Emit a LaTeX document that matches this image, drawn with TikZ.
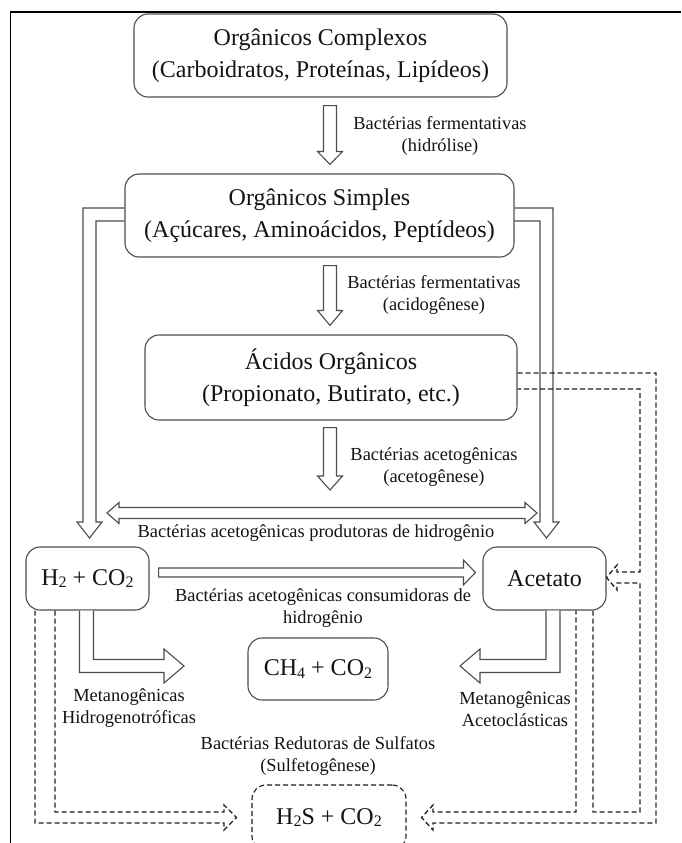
\documentclass[tikz,border=0pt]{standalone}
\usepackage{fontspec}
\setmainfont{Liberation Serif}
\usetikzlibrary{calc}
\definecolor{edgegray}{HTML}{4D4D4D}
\definecolor{txt}{HTML}{141414}
\definecolor{dashcol}{HTML}{1E1E1E}
\newcommand\bigfont{\fontsize{24}{32}\selectfont}
\newcommand\labfont{\fontsize{18.4}{22}\selectfont}
\newcommand\sbs[1]{\raisebox{-0.12em}{\fontsize{16}{16}\selectfont #1}}
% hollow block arrow: style, start, target, shaft half width, head half width, head length
\newcommand\hollowarrow[6]{%
  \path #2 coordinate (ha-s);
  \path #3 coordinate (ha-t);
  \path ($(ha-t)!#6pt!(ha-s)$) coordinate (ha-b);
  \draw[hollow,#1] ($(ha-s)!#4pt!90:(ha-t)$) -- ($(ha-b)!#4pt!-90:(ha-s)$) -- ($(ha-b)!#5pt!-90:(ha-s)$) -- (ha-t) -- ($(ha-b)!#5pt!90:(ha-s)$) -- ($(ha-b)!#4pt!90:(ha-s)$) -- ($(ha-s)!#4pt!-90:(ha-t)$) -- cycle;
}
% hollow double headed arrow: start, target, sw, hw, hl
\newcommand\hollowdouble[5]{%
  \path #1 coordinate (hd-s);
  \path #2 coordinate (hd-t);
  \path ($(hd-s)!#5pt!(hd-t)$) coordinate (hd-b1);
  \path ($(hd-t)!#5pt!(hd-s)$) coordinate (hd-b2);
  \draw[hollow] (hd-s) -- ($(hd-b1)!#4pt!90:(hd-t)$) -- ($(hd-b1)!#3pt!90:(hd-t)$) -- ($(hd-b2)!#3pt!-90:(hd-s)$) -- ($(hd-b2)!#4pt!-90:(hd-s)$) -- (hd-t) -- ($(hd-b2)!#4pt!90:(hd-s)$) -- ($(hd-b2)!#3pt!90:(hd-s)$) -- ($(hd-b1)!#3pt!-90:(hd-t)$) -- ($(hd-b1)!#4pt!-90:(hd-t)$) -- cycle;
}
\tikzset{
  box/.style={draw=edgegray, line width=1.1pt, rounded corners=14pt, fill=white, align=center, font=\bigfont, text=txt, inner sep=0pt},
  dbox/.style={box, draw=dashcol, dash pattern=on 5pt off 3pt},
  lab/.style={align=center, font=\labfont, text=txt, inner sep=0pt},
  hollow/.style={draw=edgegray, line width=1.1pt, fill=white, line join=miter},
  hollowopen/.style={draw=edgegray, line width=1.1pt, line join=miter},
  dpipe/.style={draw=dashcol, line width=1.3pt, dash pattern=on 5pt off 3pt, line join=miter},
  frame/.style={draw=black, line width=1.2pt}
}
\begin{document}
\begin{tikzpicture}[x=1pt, y=-1pt]
\useasboundingbox (0,0) rectangle (681,843);
\clip (0,0) rectangle (681,843);
\fill[white] (0,0) rectangle (681,843);
% frame
\draw[frame] (10.5,843) coordinate (fr-bl) -- (10.5,12) coordinate (fr-tl) -- (681,12) coordinate (fr-tr);

% nodes
\node[box, minimum width=373pt, minimum height=83pt] (b1) at (320.5,55.5) {Orgânicos Complexos\\(Carboidratos, Proteínas, Lipídeos)};
\node[box, minimum width=389pt, minimum height=83pt] (b2) at (319.5,215.5) {Orgânicos Simples\\(Açúcares, Aminoácidos, Peptídeos)};
\node[box, minimum width=372pt, minimum height=85pt] (b3) at (331,377.5) {Ácidos Orgânicos\\(Propionato, Butirato, etc.)};
\node[box, minimum width=123pt, minimum height=63pt] (h2) at (87.5,578.5) {H\sbs{2} + CO\sbs{2}};
\node[box, minimum width=123pt, minimum height=63pt] (ac) at (544.5,578.5) {Acetato};
\node[box, minimum width=140pt, minimum height=62pt] (ch4) at (318,669) {CH\sbs{4} + CO\sbs{2}};
\node[dbox, minimum width=154pt, minimum height=65pt] (h2s) at (329,817.5) {H\sbs{2}S + CO\sbs{2}};

% labels
\node[lab] (l1) at (440,136) {Bactérias fermentativas\\(hidrólise)};
\node[lab] (l2) at (434,295) {Bactérias fermentativas\\(acidogênese)};
\node[lab] (l3) at (434,467) {Bactérias acetogênicas\\(acetogênese)};
\node[lab] (l4) at (316,533) {Bactérias acetogênicas produtoras de hidrogênio};
\node[lab] (l5) at (323,608) {Bactérias acetogênicas consumidoras de\\hidrogênio};
\node[lab] (l6) at (129,708) {Metanogênicas\\Hidrogenotróficas};
\node[lab] (l7) at (515,709) {Metanogênicas\\Acetoclásticas};
\node[lab] (l8) at (318,756) {Bactérias Redutoras de Sulfatos\\(Sulfetogênese)};

% vertical hollow arrows between boxes
\hollowarrow{}{($(b1.south -| 330,0)+(0,8)$)}{($(b2.north -| 330,0)+(0,-9)$)}{6.5}{12.5}{13}
\hollowarrow{}{($(b2.south -| 330,0)+(0,8)$)}{($(b3.north -| 330,0)+(0,-9)$)}{6.5}{12.5}{15}
\hollowarrow{}{($(b3.south -| 330,0)+(0,7)$)}{(330,490)}{6.5}{12.5}{14}
% double arrow
\hollowdouble{(107,513)}{(537,513)}{5.5}{10.5}{12}
% H2 -> Acetato
\hollowarrow{}{($(h2.east |- 0,572.5)+(9,0)$)}{($(ac.west |- 0,572.5)+(-7,0)$)}{4.5}{12.5}{12}

% big left and right vertical hollow arrows from Orgânicos Simples
\draw[hollowopen] (b2.west |- 0,208) -- (83,208) -- (83,522) -- (77,522) -- (89.5,538) coordinate (lt-tip) -- (102,522) -- (96,522) -- (96,221) -- (b2.west |- 0,221);
\draw[hollowopen] (b2.east |- 0,208) -- (553,208) -- (553,522) -- (559,522) -- (546.5,538) coordinate (rt-tip) -- (534,522) -- (540,522) -- (540,221) -- (b2.east |- 0,221);

% L-shaped hollow arrows towards CH4
\draw[hollow] (h2.south -| 79.5,0) -- (79.5,672.5) -- (164,672.5) -- (164,683) -- (184,666) coordinate (ll-tip) -- (164,649) -- (164,659.5) -- (93.5,659.5) -- (h2.south -| 93.5,0);
\draw[hollow] (ac.south -| 560,0) -- (560,672.5) -- (480,672.5) -- (480,683) -- (460,666) coordinate (rl-tip) -- (480,649) -- (480,659.5) -- (546,659.5) -- (ac.south -| 546,0);

% dashed pipes
\draw[dpipe] (h2.south -| 35,0) -- (35,823) -- (224,823) -- (224,830) -- ($(h2s.west |- 0,817.5)+(-15,0)$) -- (224,805) -- (224,812) -- (55,812) -- (h2.south -| 55,0);
\draw[dpipe] (b3.east |- 0,373) -- (656,373) -- (656,823) -- (433,823) -- (433,830) -- ($(h2s.east |- 0,817.5)+(15,0)$) -- (433,805) -- (433,812) -- (576,812) -- (ac.south -| 576,0);
\draw[dpipe] (ac.south -| 593,0) -- (593,812) -- (640,812) -- (640,583) -- (617,583) -- (617,590) -- (ac.east |- 0,577.5) -- (617,565) -- (617,572) -- (640,572) -- (640,389) -- (b3.east |- 0,389);
\end{tikzpicture}
\end{document}
